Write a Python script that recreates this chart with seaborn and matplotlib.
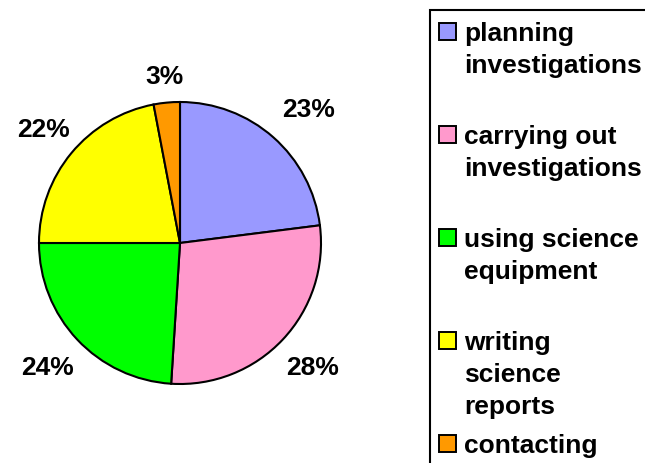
import matplotlib
matplotlib.use("Agg")
import matplotlib.pyplot as plt
import seaborn as sns
import numpy as np
from matplotlib.patches import Rectangle

categories = ["planning\ninvestigations", "carrying out\ninvestigations",
              "using science\nequipment", "writing\nscience\nreports", "contacting"]
values = [23, 28, 24, 22, 3]
colors = ["#9999FF", "#FF99CC", "#00FF00", "#FFFF00", "#FF9900"]

sns.set_theme(style="white")
plt.rcParams['font.family'] = ['Liberation Sans', 'DejaVu Sans']

W, H = 645, 463
fig = plt.figure(figsize=(W / 100, H / 100), dpi=100)
fig.patch.set_facecolor("white")

cx, cy, R = 180, 243, 141
half = 1.5 * R
ax = fig.add_axes([(cx - half) / W, (H - cy - half) / H, 2 * half / W, 2 * half / H])
wedges, _ = ax.pie(values, colors=colors, startangle=90, counterclock=False,
                   radius=1.0, wedgeprops=dict(edgecolor="black", linewidth=1.5))
ax.set_xlim(-1.5, 1.5)
ax.set_ylim(-1.5, 1.5)
ax.set_aspect("auto")
ax.axis("off")

label_dist = [1.31, 1.29, 1.29, 1.255, 1.18]
label_rot = [-2.5, 0, 0, 0, 0]
for w, v, d, r in zip(wedges, values, label_dist, label_rot):
    th = np.deg2rad((w.theta1 + w.theta2) / 2 + r)
    ax.text(d * np.cos(th), d * np.sin(th), f"{v}%", ha="center", va="center",
            fontsize=19, fontweight="bold", color="black")

# legend box (clipped by figure edge as in the reference)
fig.patches.append(Rectangle((430 / W, (H - 10 - 600) / H), 400 / W, 600 / H,
                             transform=fig.transFigure, facecolor="white",
                             edgecolor="black", linewidth=1.5, zorder=0))
for i, (lab, col) in enumerate(zip(categories, colors)):
    top = 23 + 103 * i
    fig.patches.append(Rectangle((439 / W, (H - top - 17) / H), 17 / W, 17 / H,
                                 transform=fig.transFigure, facecolor=col,
                                 edgecolor="black", linewidth=1.4, zorder=2))
    fig.text(464 / W, (H - top + 1) / H, lab, ha="left", va="top",
             fontsize=19, fontweight="bold", color="black", linespacing=1.42)

fig.savefig("out.png", dpi=100)
